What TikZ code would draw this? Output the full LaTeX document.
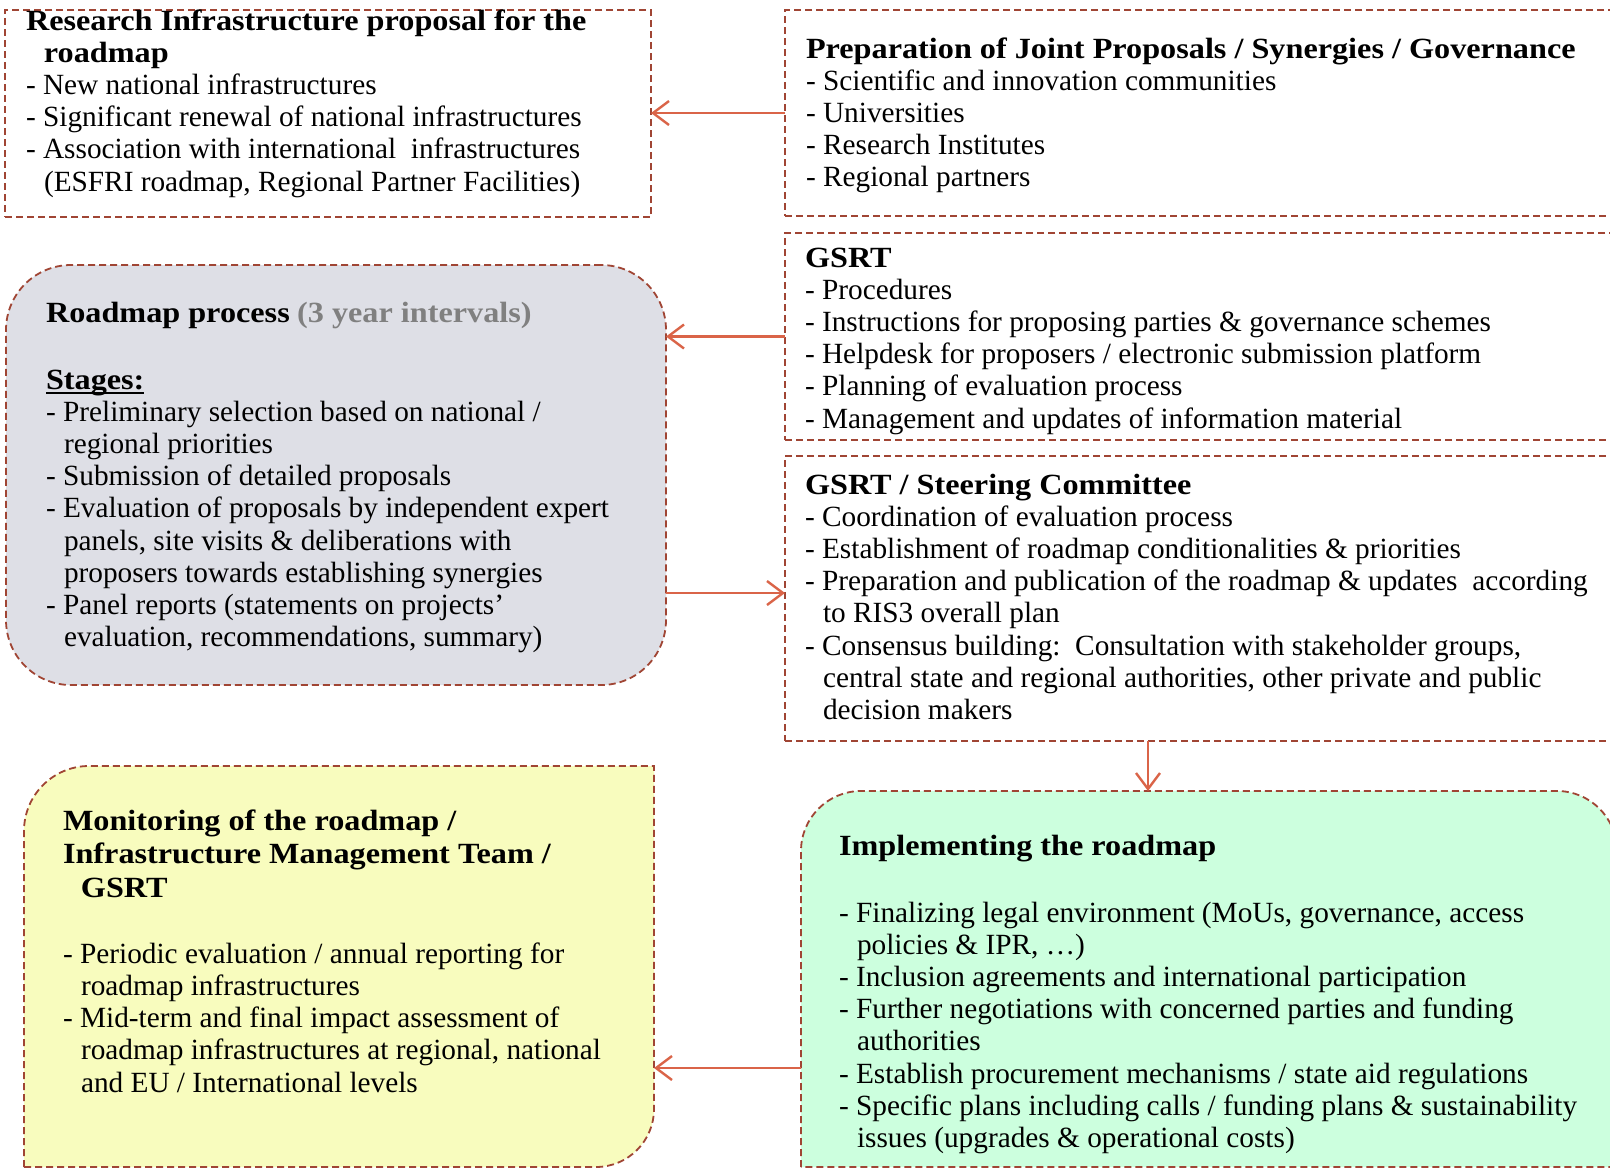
\documentclass[tikz,border=0pt]{standalone}
\usepackage{fontspec}
\setmainfont{Liberation Serif}[BoldFeatures={FakeStretch=1.1}]
\usetikzlibrary{arrows.meta}
\definecolor{bord}{RGB}{160,69,52}
\definecolor{arrc}{RGB}{218,100,72}
\definecolor{grayfill}{RGB}{222,223,230}
\definecolor{yel}{RGB}{248,252,190}
\definecolor{grn}{RGB}{204,255,222}
\definecolor{graytxt}{RGB}{128,128,128}
\newcommand{\boxtext}[2]{\parbox[t]{#1}{\fontsize{29.3}{32.2}\selectfont\raggedright #2}}
\newcommand{\ind}{\hspace*{18pt}}
\newcommand{\myul}[1]{\leavevmode\setbox0\hbox{#1}\rlap{\rule[-4.5pt]{\wd0}{1.8pt}}\box0}
\tikzset{
  boxarea/.style={rectangle, inner sep=0pt, outer sep=0pt, anchor=north west},
  outline/.style={draw=bord, line width=1.8pt, dash pattern=on 7pt off 4pt},
  rectbox/.style={boxarea, outline, fill=white},
  txt/.style={anchor=base west, inner sep=0pt, outer sep=0pt},
  arr/.style={draw=arrc, line width=2.4pt, -{Straight Barb[length=16pt,width=24pt,line width=2.4pt]}},
}
\begin{document}
\begin{tikzpicture}[x=1pt,y=-1pt]
\useasboundingbox (0,0) rectangle (1610,1168);
\fill[white] (0,0) rectangle (1610,1168);

% boxes
\node[rectbox, minimum width=646pt, minimum height=207pt] (prop) at (5,10) {};
\node[rectbox, minimum width=840pt, minimum height=206pt] (prep) at (785,10) {};
\node[rectbox, minimum width=840pt, minimum height=207pt] (gsrt) at (785,233) {};
\node[rectbox, minimum width=840pt, minimum height=285pt] (steer) at (785,456) {};
\node[boxarea, outline, fill=grayfill, rounded corners=65pt, minimum width=660pt, minimum height=420pt] (road) at (6,265) {};
\node[boxarea, minimum width=630pt, minimum height=401pt] (mon) at (24,766) {};
\node[boxarea, minimum width=816pt, minimum height=376pt] (impl) at (801,791) {};

\path[outline, fill=yel] (mon.south west) -- (24,831) .. controls (24,795.1) and (53.1,766) .. (89,766)
  -- (654,766) -- (654,1109) .. controls (654,1141) and (628,1167) .. (596,1167) -- cycle;
\path[outline, fill=grn] (impl.south west) -- (801,851) .. controls (801,817.9) and (827.9,791) .. (861,791)
  -- (1557,791) .. controls (1590.1,791) and (1617,817.9) .. (1617,851) -- (impl.south east) -- cycle;

% texts
\node[txt] (t1) at (26,30) {\boxtext{640pt}{\textbf{Research Infrastructure proposal for the}\\
\ind\textbf{roadmap}\\
- New national infrastructures\\
- Significant renewal of national infrastructures\\
- Association with international\ \ infrastructures\\
\ind(ESFRI roadmap, Regional Partner Facilities)}};

\node[txt] (t2) at (806,58) {\boxtext{800pt}{\textbf{Preparation of Joint Proposals / Synergies / Governance}\\
- Scientific and innovation communities\\
- Universities\\
- Research Institutes\\
- Regional partners}};

\node[txt] (t3) at (805,267) {\boxtext{800pt}{\textbf{GSRT}\\
- Procedures\\
- Instructions for proposing parties \& governance schemes\\
- Helpdesk for proposers / electronic submission platform\\
- Planning of evaluation process\\
- Management and updates of information material}};

\node[txt] (t4) at (805,494) {\boxtext{800pt}{\textbf{GSRT / Steering Committee}\\
- Coordination of evaluation process\\
- Establishment of roadmap conditionalities \& priorities\\
- Preparation and publication of the roadmap \& updates\ \ according\\
\ind to RIS3 overall plan\\
- Consensus building:\ \ Consultation with stakeholder groups,\\
\ind central state and regional authorities, other private and public\\
\ind decision makers}};

\node[txt] (t5) at (46,322) {\boxtext{640pt}{\textbf{Roadmap process} {\color{graytxt}\textbf{(3 year intervals)}}\\[34.8pt]
\myul{\textbf{Stages:}}\\
- Preliminary selection based on national /\\
\ind regional priorities\\
- Submission of detailed proposals\\
- Evaluation of proposals by independent expert\\
\ind panels, site visits \& deliberations with\\
\ind proposers towards establishing synergies\\
- Panel reports (statements on projects’\\
\ind evaluation, recommendations, summary)}};

\node[txt] (t6) at (63,830) {\boxtext{620pt}{\textbf{Monitoring of the roadmap /}\\[1.3pt]
\textbf{Infrastructure Management Team /}\\[1.3pt]
\ind\textbf{GSRT}\\[34pt]
- Periodic evaluation / annual reporting for\\
\ind roadmap infrastructures\\
- Mid-term and final impact assessment of\\
\ind roadmap infrastructures at regional, national\\
\ind and EU / International levels}};

\node[txt] (t7) at (839,855) {\boxtext{780pt}{\textbf{Implementing the roadmap}\\[34.8pt]
- Finalizing legal environment (MoUs, governance, access\\
\ind policies \& IPR, …)\\
- Inclusion agreements and international participation\\
- Further negotiations with concerned parties and funding\\
\ind authorities\\
- Establish procurement mechanisms / state aid regulations\\
- Specific plans including calls / funding plans \& sustainability\\
\ind issues (upgrades \& operational costs)}};

% connectors
\coordinate (y3) at (0,593);
\coordinate (x4) at (1148,0);
\coordinate (y5) at (0,1068);
\draw[arr] (prep.west) -- (prep.west -| prop.east);
\draw[arr] (gsrt.west) -- (gsrt.west -| road.east);
\draw[arr] (road.east |- y3) -- (steer.west |- y3);
\draw[arr] (steer.south -| x4) -- (impl.north -| x4);
\draw[arr] (impl.west |- y5) -- (mon.east |- y5);
\end{tikzpicture}
\end{document}
